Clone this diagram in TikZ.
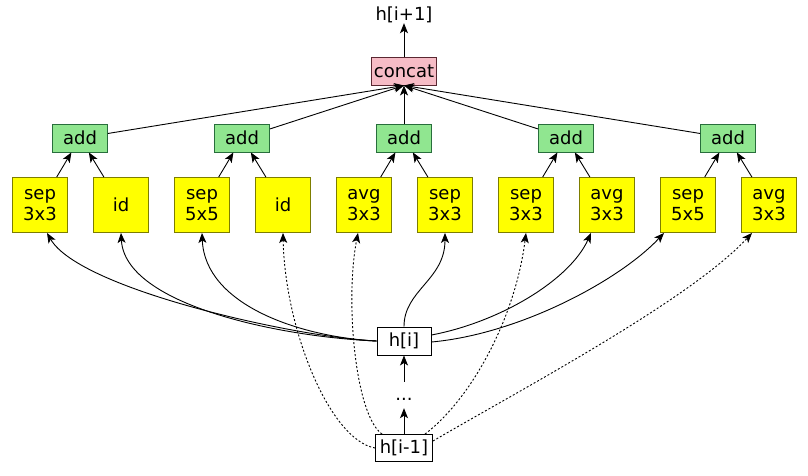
\documentclass[tikz,border=0pt]{standalone}
\usepackage{fontspec}
\setmainfont{DejaVu Sans}
\usetikzlibrary{arrows.meta}
\definecolor{yfill}{RGB}{255,255,0}
\definecolor{ydraw}{RGB}{125,125,0}
\definecolor{gfill}{RGB}{144,230,144}
\definecolor{gdraw}{RGB}{40,110,60}
\definecolor{pfill}{RGB}{246,188,198}
\definecolor{pdraw}{RGB}{90,40,50}
\tikzset{
  every node/.style={font=\fontsize{18}{21}\selectfont, inner sep=0pt, align=center},
  opbox/.style={draw=ydraw, fill=yfill, line width=0.9pt, minimum width=55pt, minimum height=55pt},
  addbox/.style={draw=gdraw, fill=gfill, line width=0.9pt, minimum width=55pt, minimum height=28pt},
  catbox/.style={draw=pdraw, fill=pfill, line width=0.9pt, minimum width=65pt, minimum height=28pt},
  hbox/.style={draw=black, fill=white, line width=0.9pt, minimum height=28pt},
  conn/.style={line width=0.9pt, -{Stealth[length=10pt,width=8pt,inset=2.5pt]}},
  dconn/.style={conn, dash pattern=on 2pt off 2pt}
}
\begin{document}
\begin{tikzpicture}[x=1pt,y=-1pt]
\useasboundingbox (0,0) rectangle (808,476);
% top
\node (out) at (404,15) {h[i+1]};
\node[catbox] (cat) at (404,71) {concat};
% add nodes
\node[addbox] (a1) at (80,138) {add};
\node[addbox] (a2) at (242,138) {add};
\node[addbox] (a3) at (404,138) {add};
\node[addbox] (a4) at (566,138) {add};
\node[addbox] (a5) at (728,138) {add};
% op nodes
\node[opbox] (o1) at (40,205) {sep\\3x3};
\node[opbox] (o2) at (121,205) {id};
\node[opbox] (o3) at (202,205) {sep\\5x5};
\node[opbox] (o4) at (283,205) {id};
\node[opbox] (o5) at (364,205) {avg\\3x3};
\node[opbox] (o6) at (445,205) {sep\\3x3};
\node[opbox] (o7) at (526,205) {sep\\3x3};
\node[opbox] (o8) at (607,205) {avg\\3x3};
\node[opbox] (o9) at (688,205) {sep\\5x5};
\node[opbox] (o10) at (769,205) {avg\\3x3};
% inputs
\node[hbox, minimum width=54pt] (hi) at (404,341) {h[i]};
\node[minimum height=26pt, minimum width=20pt, text height=10pt, text depth=0pt] (dots) at (404,395) {...};
\node[hbox, minimum width=57pt, minimum height=27pt] (him) at (404,448) {h[i-1]};
% concat to output
\draw[conn] (cat) -- (out);
% add to concat
\draw[conn] (a1) -- (cat.south);
\draw[conn] (a2) -- (cat.south);
\draw[conn] (a3) -- (cat);
\draw[conn] (a4) -- (cat.south);
\draw[conn] (a5) -- (cat.south);
% ops to add
\draw[conn] (o1) -- (a1);
\draw[conn] (o2) -- (a1);
\draw[conn] (o3) -- (a2);
\draw[conn] (o4) -- (a2);
\draw[conn] (o5) -- (a3);
\draw[conn] (o6) -- (a3);
\draw[conn] (o7) -- (a4);
\draw[conn] (o8) -- (a4);
\draw[conn] (o9) -- (a5);
\draw[conn] (o10) -- (a5);
% chain
\draw[conn] (him) -- (dots);
\draw[conn] (dots) -- (hi);
% h[i] solid edges
\draw[conn] (hi.west) .. controls (300,338) and (80,290) .. ([xshift=7pt]o1.south);
\draw[conn] (hi.west) .. controls (280,337) and (125,305) .. (o2.south);
\draw[conn] (hi.west) .. controls (300,337) and (205,305) .. (o3.south);
\draw[conn] (hi.north) .. controls (404,290) and (445,280) .. (o6.south);
\draw[conn] ([yshift=6pt]hi.east) .. controls (500,322) and (570,280) .. ([xshift=-16pt]o8.south);
\draw[conn] ([yshift=-1pt]hi.east) .. controls (520,334) and (620,280) .. ([xshift=-24pt]o9.south);
% h[i-1] dashed edges
\draw[dconn] (him.west) .. controls (330,440) and (285,330) .. (o4.south);
\draw[dconn] ([xshift=-22pt]him.north) .. controls (355,415) and (345,300) .. ([xshift=-6pt]o5.south);
\draw[dconn] ([xshift=21pt]him.north) .. controls (470,400) and (515,320) .. (o7.south);
\draw[dconn] ([yshift=7pt]him.east) .. controls (520,390) and (690,300) .. ([xshift=-17pt]o10.south);
\end{tikzpicture}
\end{document}
